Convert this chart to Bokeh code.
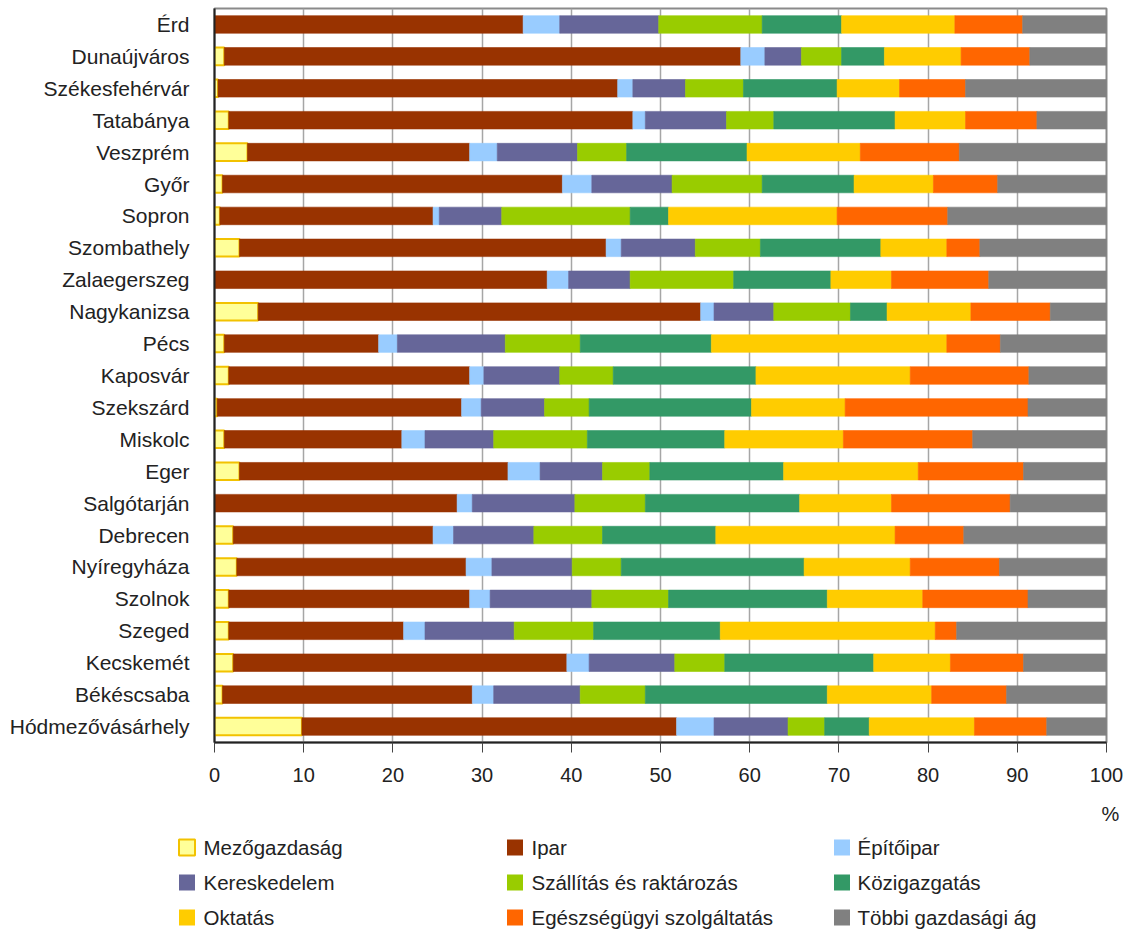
from bokeh.plotting import figure
from bokeh.models import ColumnDataSource, FactorRange, Range1d, FixedTicker
from bokeh.layouts import column
from bokeh.core.properties import value
from bokeh.embed import file_html
from bokeh.resources import INLINE

cities = ["Érd", "Dunaújváros", "Székesfehérvár", "Tatabánya", "Veszprém", "Győr",
          "Sopron", "Szombathely", "Zalaegerszeg", "Nagykanizsa", "Pécs", "Kaposvár",
          "Szekszárd", "Miskolc", "Eger", "Salgótarján", "Debrecen", "Nyíregyháza",
          "Szolnok", "Szeged", "Kecskemét", "Békéscsaba", "Hódmezővásárhely"]

categories = ["Mezőgazdaság", "Ipar", "Építőipar", "Kereskedelem", "Szállítás és raktározás",
              "Közigazgatás", "Oktatás", "Egészségügyi szolgáltatás", "Többi gazdasági ág"]

mezogazdasag = [0, 1.1, 0.4, 1.6, 3.7, 0.9, 0.6, 2.8, 0, 4.9, 1.1, 1.6, 0.3, 1.1, 2.8, 0, 2.1, 2.5, 1.6, 1.6, 2.1, 0.9, 9.8]
ipar = [34.6, 57.9, 44.8, 45.3, 24.9, 38.1, 23.9, 41.1, 37.3, 49.6, 17.3, 27.0, 27.4, 19.9, 30.1, 27.2, 22.4, 25.7, 27.0, 19.6, 37.4, 28.0, 42.0]
epitoipar = [4.1, 2.7, 1.7, 1.4, 3.1, 3.3, 0.7, 1.7, 2.4, 1.5, 2.1, 1.6, 2.2, 2.6, 3.6, 1.7, 2.3, 2.9, 2.3, 2.4, 2.5, 2.4, 4.2]
kereskedelem = [11.1, 4.1, 5.9, 9.1, 9.0, 9.0, 7.0, 8.3, 6.9, 6.7, 12.1, 8.5, 7.1, 7.7, 7.0, 11.5, 9.0, 9.0, 11.4, 10.0, 9.6, 9.7, 8.3]
szallitas = [11.6, 4.5, 6.5, 5.3, 5.5, 10.1, 14.4, 7.3, 11.6, 8.6, 8.4, 6.0, 5.0, 10.5, 5.3, 7.9, 7.7, 5.5, 8.6, 8.9, 5.6, 7.3, 4.1]
kozigazgatas = [8.9, 4.8, 10.5, 13.6, 13.5, 10.3, 4.3, 13.5, 10.9, 4.1, 14.7, 16.0, 18.2, 15.4, 15.0, 17.3, 12.7, 20.5, 17.8, 14.2, 16.7, 20.4, 5.0]
oktatas = [12.7, 8.6, 7.0, 7.9, 12.7, 8.9, 18.9, 7.4, 6.8, 9.4, 26.4, 17.3, 10.5, 13.3, 15.1, 10.3, 20.1, 11.9, 10.7, 24.1, 8.6, 11.7, 11.8]
egeszsegugy = [7.6, 7.7, 7.4, 8.0, 11.1, 7.2, 12.4, 3.7, 10.9, 8.9, 6.0, 13.3, 20.5, 14.5, 11.8, 13.3, 7.7, 10.0, 11.8, 2.4, 8.2, 8.4, 8.1]
tobbi = [9.4, 8.6, 15.8, 7.8, 16.5, 12.2, 17.8, 14.2, 13.2, 6.3, 11.9, 8.7, 8.8, 15.0, 9.3, 10.8, 16.0, 12.0, 8.8, 16.8, 9.3, 11.2, 6.7]

x_ticks = [0, 10, 20, 30, 40, 50, 60, 70, 80, 90, 100]

fill_colors = ["#FFFF99", "#993300", "#99CCFF", "#666699", "#99CC00",
               "#339966", "#FFCC00", "#FF6600", "#808080"]
line_colors = ["#F2C200", "#993300", "#99CCFF", "#666699", "#99CC00",
               "#339966", "#FFCC00", "#FF6600", "#808080"]
line_widths = [2, 0.6, 0.6, 0.6, 0.6, 0.6, 0.6, 0.6, 0.6]

keys = ["mezo", "ipar", "epito", "keresk", "szall", "kozig", "oktat", "egesz", "tobbi"]
series = [mezogazdasag, ipar, epitoipar, kereskedelem, szallitas, kozigazgatas,
          oktatas, egeszsegugy, tobbi]

data = {"city": cities}
for k, s in zip(keys, series):
    data[k] = s
source = ColumnDataSource(data)

FONT = "Liberation Sans"

p = figure(width=1128, height=792, output_backend="svg", toolbar_location=None,
           y_range=FactorRange(factors=cities[::-1]), x_range=Range1d(0, 100),
           min_border_left=214, min_border_right=22, min_border_top=8,
           min_border_bottom=50)
p.frame_align = False

p.hbar_stack(keys, y="city", height=0.55, source=source,
             fill_color=fill_colors, line_color=line_colors, line_width=line_widths)

p.xaxis.ticker = FixedTicker(ticks=x_ticks)
p.xaxis.major_tick_out = 10
p.xaxis.major_tick_in = 0
p.xaxis.minor_tick_line_color = None
p.xaxis.axis_line_color = "#222222"
p.xaxis.axis_line_width = 2
p.xaxis.major_tick_line_color = "#444444"
p.xaxis.major_label_standoff = 15
p.xaxis.major_label_text_font = FONT
p.xaxis.major_label_text_font_size = "20px"
p.xaxis.major_label_text_color = "#222222"

p.yaxis.major_tick_line_color = None
p.yaxis.minor_tick_line_color = None
p.yaxis.axis_line_color = "#222222"
p.yaxis.axis_line_width = 2
p.yaxis.major_label_standoff = 19
p.yaxis.major_label_text_font = FONT
p.yaxis.major_label_text_font_size = "21px"
p.yaxis.major_label_text_color = "#222222"

p.ygrid.grid_line_color = None
p.xgrid.grid_line_color = "#A6A6A6"
p.xgrid.grid_line_width = 1.5
p.outline_line_color = "#8A8A8A"
p.outline_line_width = 2
p.background_fill_color = "white"
p.border_fill_color = "white"

# legend panel
LH = 142
leg = figure(width=1128, height=LH, output_backend="svg", toolbar_location=None,
             x_range=Range1d(0, 1128), y_range=Range1d(LH, 0),
             min_border=0, min_border_left=0, min_border_right=0,
             min_border_top=0, min_border_bottom=0)
leg.frame_align = False
leg.axis.visible = False
leg.grid.grid_line_color = None
leg.outline_line_color = None

col_sq = [186.5, 514.5, 841.5]
col_tx = [203, 531, 857]
row_y = [55, 90, 125]
sq_x, tx_x, yy = [], [], []
for i in range(len(categories)):
    c, r = i % 3, i // 3
    sq_x.append(col_sq[c])
    tx_x.append(col_tx[c])
    yy.append(row_y[r])

lsrc = ColumnDataSource(dict(sx=sq_x, tx=tx_x, y=yy, label=categories,
                             fc=fill_colors, lc=line_colors, lw=line_widths[:1] + [0] * 8))
leg.rect(x="sx", y="y", width=16, height=16, source=lsrc, fill_color="fc",
         line_color="lc", line_width="lw")
leg.text(x="tx", y="y", text="label", source=lsrc, text_font=value(FONT),
         text_font_size=value("20.5px"), text_baseline="middle", text_align="left",
         text_color="#222222")
leg.text(x=[1110], y=[21], text=["%"], text_font=value(FONT),
         text_font_size=value("20px"), text_baseline="middle", text_align="center",
         text_color="#222222")

layout = column(p, leg, spacing=0)
open("out.html", "w").write(file_html(layout, INLINE))
